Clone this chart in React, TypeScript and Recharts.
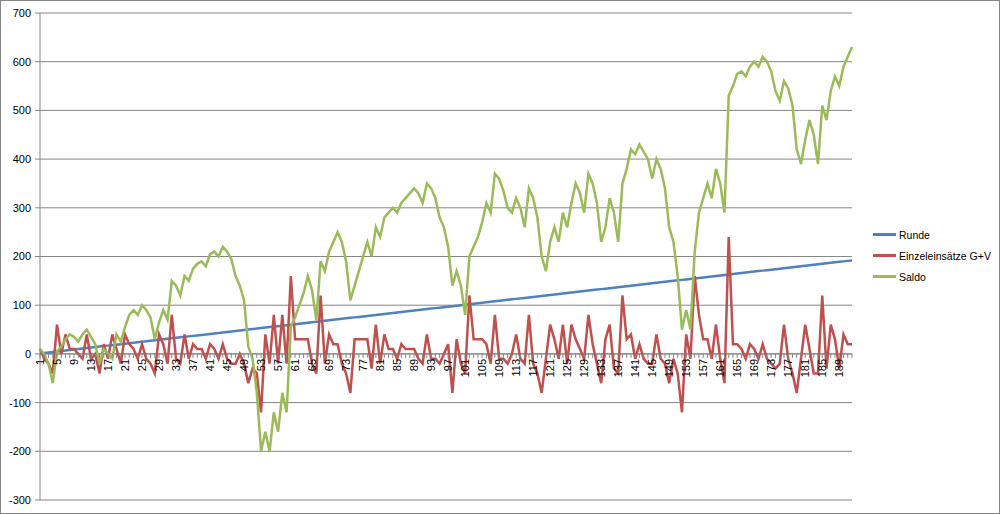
import { LineChart, Line, XAxis, YAxis, CartesianGrid, Legend, ReferenceLine } from "recharts";

const rounds = [
  1, 2, 3, 4, 5, 6, 7, 8, 9, 10, 11, 12, 13, 14, 15, 16, 17, 18, 19, 20,
  21, 22, 23, 24, 25, 26, 27, 28, 29, 30, 31, 32, 33, 34, 35, 36, 37, 38, 39, 40,
  41, 42, 43, 44, 45, 46, 47, 48, 49, 50, 51, 52, 53, 54, 55, 56, 57, 58, 59, 60,
  61, 62, 63, 64, 65, 66, 67, 68, 69, 70, 71, 72, 73, 74, 75, 76, 77, 78, 79, 80,
  81, 82, 83, 84, 85, 86, 87, 88, 89, 90, 91, 92, 93, 94, 95, 96, 97, 98, 99, 100,
  101, 102, 103, 104, 105, 106, 107, 108, 109, 110, 111, 112, 113, 114, 115, 116, 117, 118, 119, 120,
  121, 122, 123, 124, 125, 126, 127, 128, 129, 130, 131, 132, 133, 134, 135, 136, 137, 138, 139, 140,
  141, 142, 143, 144, 145, 146, 147, 148, 149, 150, 151, 152, 153, 154, 155, 156, 157, 158, 159, 160,
  161, 162, 163, 164, 165, 166, 167, 168, 169, 170, 171, 172, 173, 174, 175, 176, 177, 178, 179, 180,
  181, 182, 183, 184, 185, 186, 187, 188, 189, 190, 191, 192,
];

// Einzeleinsätze G+V
const einzel = [
  10, -10, -20, -40, 60, 0, 40, 10, 10, 0,
  -10, 40, -10, 0, -40, 20, -10, 40, 10, -20,
  40, 20, 10, -10, 20, -10, -20, -40, 40, 20,
  -20, 80, -10, -20, 40, -10, 20, 10, 10, -10,
  20, 10, -10, 20, -10, -20, -20, 0, -20, -60,
  -30, -40, -120, 40, -20, 80, -20, 80, -20, 160,
  30, 30, 30, 30, -20, -40, 120, -20, 40, 20,
  20, -20, -40, -80, 30, 30, 30, 30, -30, 60,
  -20, 40, 10, 10, -10, 20, 10, 10, 10, -10,
  -20, 40, -10, -10, -20, 0, 20, -80, 30, -20,
  -40, 120, 30, 30, 30, 20, -20, 80, -10, -10,
  -20, 0, 40, -10, -20, 80, -20, -40, -80, -10,
  60, 30, -10, 60, -20, 60, 30, 10, -10, 80,
  20, -20, -60, 30, 60, -30, -40, 120, 30, 40,
  -10, 20, -10, -20, -20, 40, -10, -20, -60, -10,
  -40, -120, 40, -10, 160, 80, 30, 30, -10, 60,
  -10, -60, 240, 20, 20, 10, -10, 20, 10, -10,
  20, -10, -20, -30, -20, 60, -10, -40, -80, -10,
  60, 10, -40, -40, 120, -30, 60, 30, -30, 40,
  20, 20,
];

const saldo = [
  10, 0, -20, -60, 5, 15, 30, 40, 35, 25,
  40, 50, 35, 20, -20, 10, 0, -10, 40, 25,
  55, 80, 90, 80, 100, 90, 75, 30, 65, 90,
  70, 150, 140, 120, 160, 150, 175, 185, 190, 180,
  205, 210, 200, 220, 210, 195, 160, 140, 110, 15,
  -10, -80, -200, -160, -200, -120, -160, -80, -120, 55,
  75, 100, 125, 160, 130, 70, 190, 170, 210, 230,
  250, 230, 190, 110, 140, 170, 200, 230, 200, 260,
  240, 280, 290, 300, 290, 310, 320, 330, 340, 330,
  310, 350, 340, 320, 280, 260, 220, 140, 170, 140,
  80, 200, 220, 240, 270, 310, 290, 370, 360, 335,
  300, 290, 320, 300, 260, 340, 320, 280, 200, 170,
  230, 260, 230, 290, 260, 310, 350, 330, 290, 370,
  350, 310, 230, 260, 320, 290, 230, 350, 380, 420,
  410, 430, 415, 400, 360, 400, 380, 340, 260, 230,
  160, 50, 90, 50, 210, 290, 320, 350, 320, 380,
  350, 290, 530, 550, 575, 580, 570, 590, 600, 590,
  610, 600, 580, 540, 520, 560, 545, 510, 420, 390,
  440, 480, 450, 390, 510, 480, 540, 570, 550, 590,
  610, 630,
];

const yTicks = [-300, -200, -100, 0, 100, 200, 300, 400, 500, 600, 700];
const seriesOrder = ["Runde", "Einzeleinsätze G+V", "Saldo"];

const data = rounds.map((r, i) => ({
  round: r,
  runde: r,
  einzel: einzel[i],
  saldo: saldo[i],
}));

const FONT = "'Liberation Sans', Arial, sans-serif";
const AXIS = "#868686";
const W = 998;
const H = 512;
const X_H = 13;
const M = { top: 12, right: 147, bottom: 0, left: 0 };
const PLOT_H = H - M.top - M.bottom - X_H;
// horizontal axis crosses at 0 (700 of the 1000 range lies above it)
const ZERO_Y = M.top + PLOT_H * 0.7;

function XTick(props: any) {
  const { x, payload } = props;
  const v = payload.value;
  const show = (v - 1) % 4 === 0;
  return (
    <g>
      <line x1={x} x2={x} y1={ZERO_Y} y2={ZERO_Y + 4} stroke={AXIS} />
      {show && (
        <text
          transform={`translate(${x + 4},${ZERO_Y + 5}) rotate(-90)`}
          textAnchor="end"
          fontSize={11}
          fontFamily={FONT}
          fill="#000"
        >
          {v}
        </text>
      )}
    </g>
  );
}

function LegendBox({ payload }: any) {
  const items = [...(payload || [])].sort(
    (a: any, b: any) => seriesOrder.indexOf(a.value) - seriesOrder.indexOf(b.value)
  );
  return (
    <div style={{ fontFamily: FONT, fontSize: 10.5, color: "#000" }}>
      {items.map((p: any) => (
        <div key={p.value} style={{ display: "flex", alignItems: "center", height: 21 }}>
          <span style={{ display: "inline-block", width: 23, height: 3, background: p.color, marginRight: 3 }} />
          <span>{p.value}</span>
        </div>
      ))}
    </div>
  );
}

export default function App() {
  return (
    <div style={{ width: 1000, height: 514, boxSizing: "border-box", border: `1px solid ${AXIS}`, background: "#fff" }}>
      <style>{"body{margin:0}"}</style>
      <LineChart width={W} height={H} data={data} margin={M}>
        <CartesianGrid horizontal vertical={false} stroke={AXIS} />
        <XAxis
          dataKey="round"
          height={X_H}
          interval={0}
          axisLine={false}
          tickLine={false}
          tick={<XTick />}
        />
        <YAxis
          width={39}
          domain={[-300, 700]}
          ticks={yTicks}
          stroke={AXIS}
          tickSize={5}
          tickMargin={4}
          tick={{ fontSize: 11, fill: "#000", fontFamily: FONT }}
          allowDataOverflow
        />
        <ReferenceLine y={0} stroke={AXIS} />
        <Legend
          layout="vertical"
          align="center"
          verticalAlign="middle"
          wrapperStyle={{ left: 872, top: 223, width: 126 }}
          content={<LegendBox />}
        />
        <Line type="linear" dataKey="runde" name="Runde" stroke="#4F81BD" strokeWidth={2.5} dot={false} isAnimationActive={false} />
        <Line type="linear" dataKey="einzel" name="Einzeleinsätze G+V" stroke="#C0504D" strokeWidth={2.5} dot={false} isAnimationActive={false} />
        <Line type="linear" dataKey="saldo" name="Saldo" stroke="#9BBB59" strokeWidth={2.5} dot={false} isAnimationActive={false} />
      </LineChart>
    </div>
  );
}
